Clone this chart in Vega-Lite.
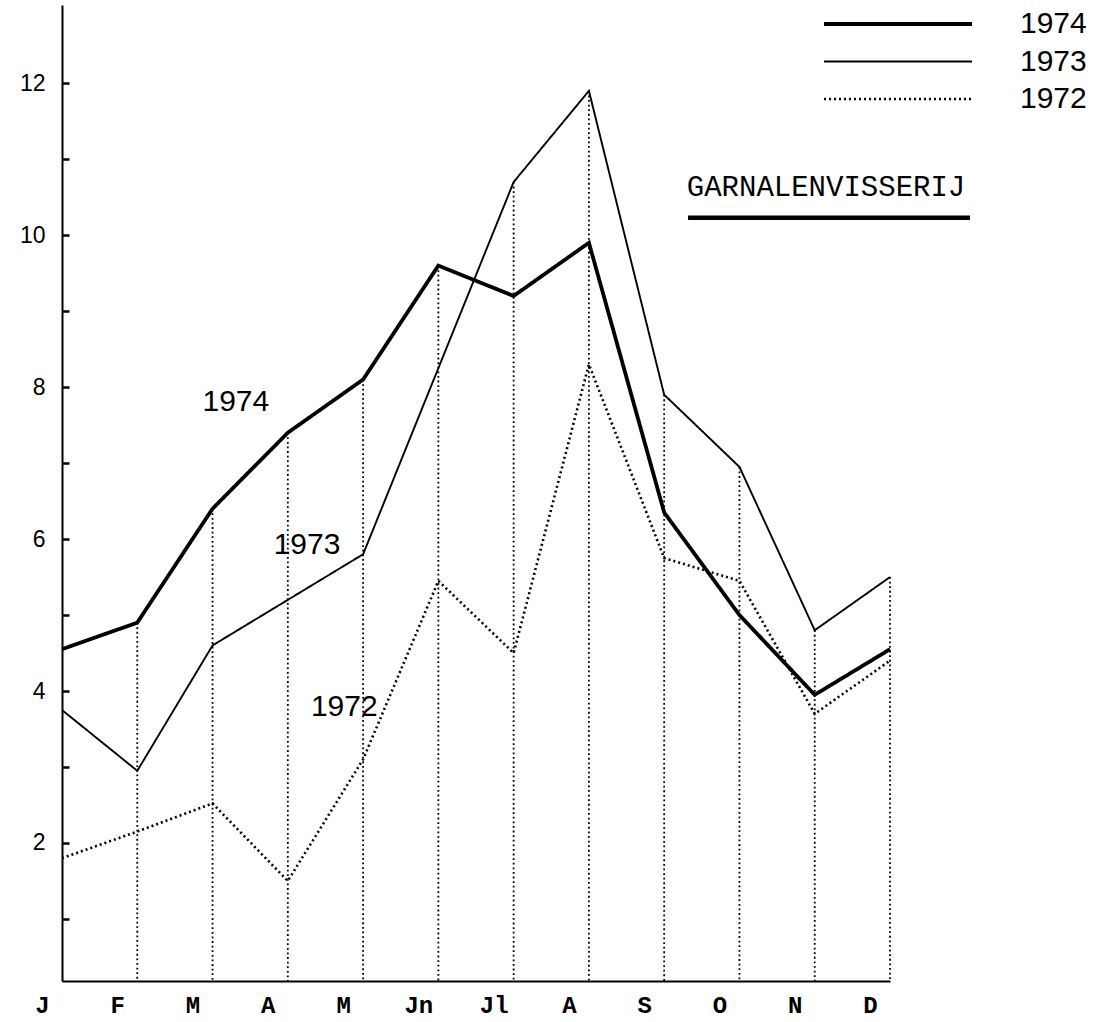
{
  "$schema": "https://vega.github.io/schema/vega-lite/v6.json",
  "width": 828,
  "height": 976,
  "autosize": {"type": "none"},
  "padding": {"left": 62, "top": 5, "right": 207, "bottom": 41},
  "background": "white",
  "config": {"view": {"stroke": null}, "font": "Liberation Sans"},
  "data": {
    "values": [
      {"m": 0, "year": "1974", "value": 4.55},
      {"m": 1, "year": "1974", "value": 4.9},
      {"m": 2, "year": "1974", "value": 6.4},
      {"m": 3, "year": "1974", "value": 7.4},
      {"m": 4, "year": "1974", "value": 8.1},
      {"m": 5, "year": "1974", "value": 9.6},
      {"m": 6, "year": "1974", "value": 9.2},
      {"m": 7, "year": "1974", "value": 9.9},
      {"m": 8, "year": "1974", "value": 6.35},
      {"m": 9, "year": "1974", "value": 5.0},
      {"m": 10, "year": "1974", "value": 3.95},
      {"m": 11, "year": "1974", "value": 4.55},
      {"m": 0, "year": "1973", "value": 3.75},
      {"m": 1, "year": "1973", "value": 2.95},
      {"m": 2, "year": "1973", "value": 4.6},
      {"m": 3, "year": "1973", "value": 5.2},
      {"m": 4, "year": "1973", "value": 5.8},
      {"m": 5, "year": "1973", "value": 8.25},
      {"m": 6, "year": "1973", "value": 10.7},
      {"m": 7, "year": "1973", "value": 11.9},
      {"m": 8, "year": "1973", "value": 7.9},
      {"m": 9, "year": "1973", "value": 6.95},
      {"m": 10, "year": "1973", "value": 4.8},
      {"m": 11, "year": "1973", "value": 5.5},
      {"m": 0, "year": "1972", "value": 1.8},
      {"m": 1, "year": "1972", "value": 2.15},
      {"m": 2, "year": "1972", "value": 2.52},
      {"m": 3, "year": "1972", "value": 1.5},
      {"m": 4, "year": "1972", "value": 3.1},
      {"m": 5, "year": "1972", "value": 5.45},
      {"m": 6, "year": "1972", "value": 4.5},
      {"m": 7, "year": "1972", "value": 8.3},
      {"m": 8, "year": "1972", "value": 5.75},
      {"m": 9, "year": "1972", "value": 5.45},
      {"m": 10, "year": "1972", "value": 3.7},
      {"m": 11, "year": "1972", "value": 4.4}
    ]
  },
  "layer": [
    {
      "transform": [
        {"filter": "datum.m > 0"},
        {"aggregate": [{"op": "max", "field": "value", "as": "top"}], "groupby": ["m"]}
      ],
      "mark": {"type": "rule", "color": "black", "strokeWidth": 1.8, "strokeDash": [1.8, 2.8]},
      "encoding": {
        "x": {"field": "m", "type": "quantitative", "scale": {"domain": [0, 11], "nice": false, "zero": false}},
        "y": {"field": "top", "type": "quantitative", "scale": {"domain": [0.183, 13.03], "nice": false, "zero": false}},
        "y2": {"datum": 0.183}
      }
    },
    {
      "mark": {"type": "line", "color": "black"},
      "encoding": {
        "x": {
          "field": "m", "type": "quantitative",
          "scale": {"domain": [0, 11], "nice": false, "zero": false},
          "axis": {
            "values": [0, 1, 2, 3, 4, 5, 6, 7, 8, 9, 10, 11],
            "labelExpr": "['J','F','M','A','M','Jn','Jl','A','S','O','N','D'][datum.value]",
            "title": null, "ticks": false, "grid": false,
            "domainColor": "black", "domainWidth": 2,
            "labelFont": "Liberation Mono", "labelFontSize": 24, "labelFontWeight": "bold",
            "labelColor": "black", "labelOffset": -20, "labelPadding": 24,
            "labelBaseline": "middle", "labelAlign": "center", "labelFlush": false
          }
        },
        "y": {
          "field": "value", "type": "quantitative",
          "scale": {"domain": [0.183, 13.03], "nice": false, "zero": false},
          "axis": {
            "values": [1, 2, 3, 4, 5, 6, 7, 8, 9, 10, 11, 12],
            "labelExpr": "datum.value % 2 == 0 ? format(datum.value, 'd') : ''",
            "title": null, "grid": false,
            "tickSize": -7, "tickWidth": 2.5, "tickColor": "black",
            "domainColor": "black", "domainWidth": 2,
            "labelFont": "Liberation Sans", "labelFontSize": 23, "labelColor": "black",
            "labelPadding": 24
          }
        },
        "strokeDash": {
          "field": "year", "type": "nominal",
          "scale": {"domain": ["1974", "1973", "1972"], "range": [[1, 0], [1, 0], [2, 3]]},
          "legend": {
            "title": null, "orient": "none", "legendX": 760, "legendY": 4,
            "symbolType": "stroke", "symbolSize": 21904, "clipHeight": 30,
            "rowPadding": 7.5, "labelOffset": 46, "labelFontSize": 30,
            "labelFont": "Liberation Sans", "labelColor": "black", "padding": 0,
            "symbolStrokeColor": "black"
          }
        },
        "strokeWidth": {
          "field": "year", "type": "nominal",
          "scale": {"type": "ordinal", "domain": ["1974", "1973", "1972"], "range": [3.8, 1.9, 2.6]},
          "legend": {
            "title": null, "orient": "none", "legendX": 760, "legendY": 4,
            "symbolType": "stroke", "symbolSize": 21904, "clipHeight": 30,
            "rowPadding": 7.5, "labelOffset": 46, "labelFontSize": 30,
            "labelFont": "Liberation Sans", "labelColor": "black", "padding": 0,
            "symbolStrokeColor": "black"
          }
        }
      }
    },
    {
      "data": {"values": [{}]},
      "mark": {"type": "text", "text": "1974", "font": "Liberation Sans", "fontSize": 30, "align": "center", "baseline": "middle", "color": "black"},
      "encoding": {"x": {"datum": 2.31, "type": "quantitative"}, "y": {"datum": 7.8, "type": "quantitative"}}
    },
    {
      "data": {"values": [{}]},
      "mark": {"type": "text", "text": "1973", "font": "Liberation Sans", "fontSize": 30, "align": "center", "baseline": "middle", "color": "black"},
      "encoding": {"x": {"datum": 3.255, "type": "quantitative"}, "y": {"datum": 5.92, "type": "quantitative"}}
    },
    {
      "data": {"values": [{}]},
      "mark": {"type": "text", "text": "1972", "font": "Liberation Sans", "fontSize": 30, "align": "center", "baseline": "middle", "color": "black"},
      "encoding": {"x": {"datum": 3.75, "type": "quantitative"}, "y": {"datum": 3.79, "type": "quantitative"}}
    },
    {
      "data": {"values": [{}]},
      "mark": {"type": "text", "text": "GARNALENVISSERIJ", "font": "Liberation Mono", "fontSize": 29, "align": "center", "baseline": "middle", "color": "black"},
      "encoding": {"x": {"datum": 10.15, "type": "quantitative"}, "y": {"datum": 10.63, "type": "quantitative"}}
    },
    {
      "data": {"values": [{}]},
      "mark": {"type": "rule", "color": "black", "strokeWidth": 4.5},
      "encoding": {
        "x": {"datum": 8.317, "type": "quantitative"},
        "x2": {"datum": 12.063},
        "y": {"datum": 10.23, "type": "quantitative"}
      }
    }
  ]
}
